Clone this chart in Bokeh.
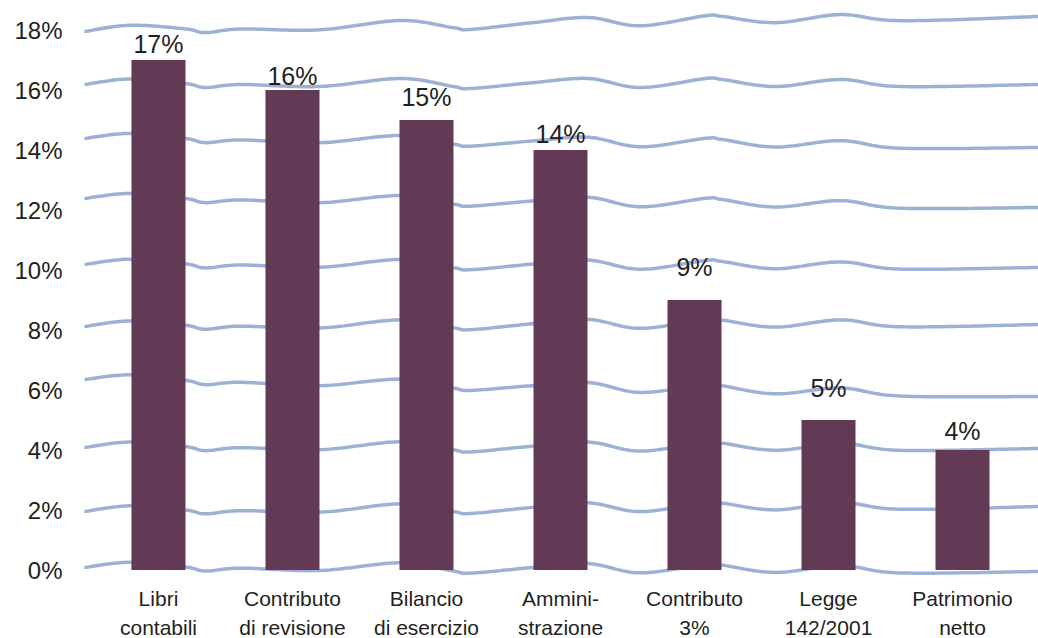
import numpy as np
from bokeh.plotting import figure
from bokeh.models import Range1d, FixedTicker
from bokeh.embed import file_html
from bokeh.resources import INLINE
from bokeh.core.properties import value

# ---------------- data ----------------
categories = ["Libri\ncontabili", "Contributo\ndi revisione", "Bilancio\ndi esercizio",
              "Ammini-\nstrazione", "Contributo\n3%", "Legge\n142/2001", "Patrimonio\nnetto"]
values = [17, 16, 15, 14, 9, 5, 4]
value_labels = ["17%", "16%", "15%", "14%", "9%", "5%", "4%"]
y_ticks = [0, 2, 4, 6, 8, 10, 12, 14, 16, 18]
y_tick_labels = ["0%", "2%", "4%", "6%", "8%", "10%", "12%", "14%", "16%", "18%"]

# ---------------- style ----------------
FONT = "Liberation Sans"
BAR_COLOR = "#623A56"
GRID_COLOR = "#9DB1D6"
TEXT_COLOR = "#231F20"
W, H = 1038, 638
BORDER_L = 84
ZERO_PX = 569.5        # page y of value 0
PX_PER_UNIT = 30.0
Y0 = -(H - ZERO_PX) / PX_PER_UNIT
Y1 = ZERO_PX / PX_PER_UNIT
X0, X1 = -0.552, 6.567
# hand-drawn wavy grid: shared wave (x in category units, offset in px, + = down)
WAVE_U = [-0.552, -0.209, 0.201, 0.351, 0.612, 1.201, 1.806, 2.201, 2.328, 2.806,
          3.209, 3.597, 4.082, 4.209, 4.604, 5.090, 5.537, 6.567]
WAVE_PX = [0, -5.5, -1, 3, 0, 2, -6, 2, 4, -2, -6, 3, -6, -5, 2, -5, 2, 0]
# each hand-drawn line's drift (px, + = down) at its left and right ends
LINE_LEFT_PX = [-2.5, 1.5, -2.5, -10.5, -3.5, -5.5, -11.5, -11.5, -5.5, 1.5]
LINE_RIGHT_PX = [1.5, -3.5, -1.5, 6.5, -5.5, -2.5, -2.5, -2.5, -5.5, -13.5]
LABEL_GAP_PX = [16, 14, 23, 16, 33, 32, 19]           # label offset above bar top
CAT_LABEL_OFFSET_PX = 17                              # category label top below zero


def catmull_rom(xs, ys, n=24):
    xs = np.asarray(xs, float)
    ys = np.asarray(ys, float)
    out_x, out_y = [], []
    m = len(xs)
    t = np.linspace(0, 1, n, endpoint=False)
    for i in range(m - 1):
        i0, i1, i2, i3 = max(i - 1, 0), i, i + 1, min(i + 2, m - 1)
        for arr, out in ((xs, out_x), (ys, out_y)):
            p0, p1, p2, p3 = arr[i0], arr[i1], arr[i2], arr[i3]
            out.extend(0.5 * ((2 * p1) + (-p0 + p2) * t
                              + (2 * p0 - 5 * p1 + 4 * p2 - p3) * t ** 2
                              + (-p0 + 3 * p1 - 3 * p2 + p3) * t ** 3))
    out_x.append(xs[-1])
    out_y.append(ys[-1])
    return np.array(out_x), np.array(out_y)


p = figure(width=W, height=H, output_backend="svg", toolbar_location=None,
           x_range=Range1d(X0, X1), y_range=Range1d(Y0, Y1),
           min_border_left=BORDER_L, min_border_right=0, min_border_top=0,
           min_border_bottom=0)
p.outline_line_color = None
p.grid.visible = False
p.background_fill_color = "white"
p.border_fill_color = "white"

xs_list, ys_list = [], []
wu = np.array(WAVE_U)
frac = (wu - wu[0]) / (wu[-1] - wu[0])
for tick, lft, rgt in zip(y_ticks, LINE_LEFT_PX, LINE_RIGHT_PX):
    offs = np.array(WAVE_PX) + lft + (rgt - lft) * frac
    cx, cy = catmull_rom(wu, tick - offs / PX_PER_UNIT)
    xs_list.append(list(cx))
    ys_list.append(list(cy))
p.multi_line(xs_list, ys_list, line_color=GRID_COLOR, line_width=3.5, line_cap="round")

xi = list(range(len(values)))
p.vbar(x=xi, top=values, bottom=0, width=0.403, fill_color=BAR_COLOR, line_color=None)

for i, (v, lab, gap) in enumerate(zip(values, value_labels, LABEL_GAP_PX)):
    p.text(x=[i], y=[v], text=[lab], text_align="center", text_baseline="alphabetic",
           y_offset=-gap, text_font=value(FONT), text_font_size="25px", text_color=TEXT_COLOR)

# category labels under the bars
p.text(x=xi, y=[0] * len(xi), text=categories, text_align="center", text_baseline="top",
       y_offset=CAT_LABEL_OFFSET_PX, text_font=value(FONT), text_font_size="21px",
       text_line_height=1.26, text_color=TEXT_COLOR)

p.yaxis.ticker = FixedTicker(ticks=y_ticks)
p.yaxis.major_label_overrides = {t: l for t, l in zip(y_ticks, y_tick_labels)}
p.yaxis.axis_line_color = None
p.yaxis.major_tick_line_color = None
p.yaxis.minor_tick_line_color = None
p.yaxis.major_label_standoff = 16
p.yaxis.major_label_text_font = FONT
p.yaxis.major_label_text_font_size = "24px"
p.yaxis.major_label_text_color = TEXT_COLOR

p.xaxis.visible = False

open("out.html", "w").write(file_html(p, INLINE))
